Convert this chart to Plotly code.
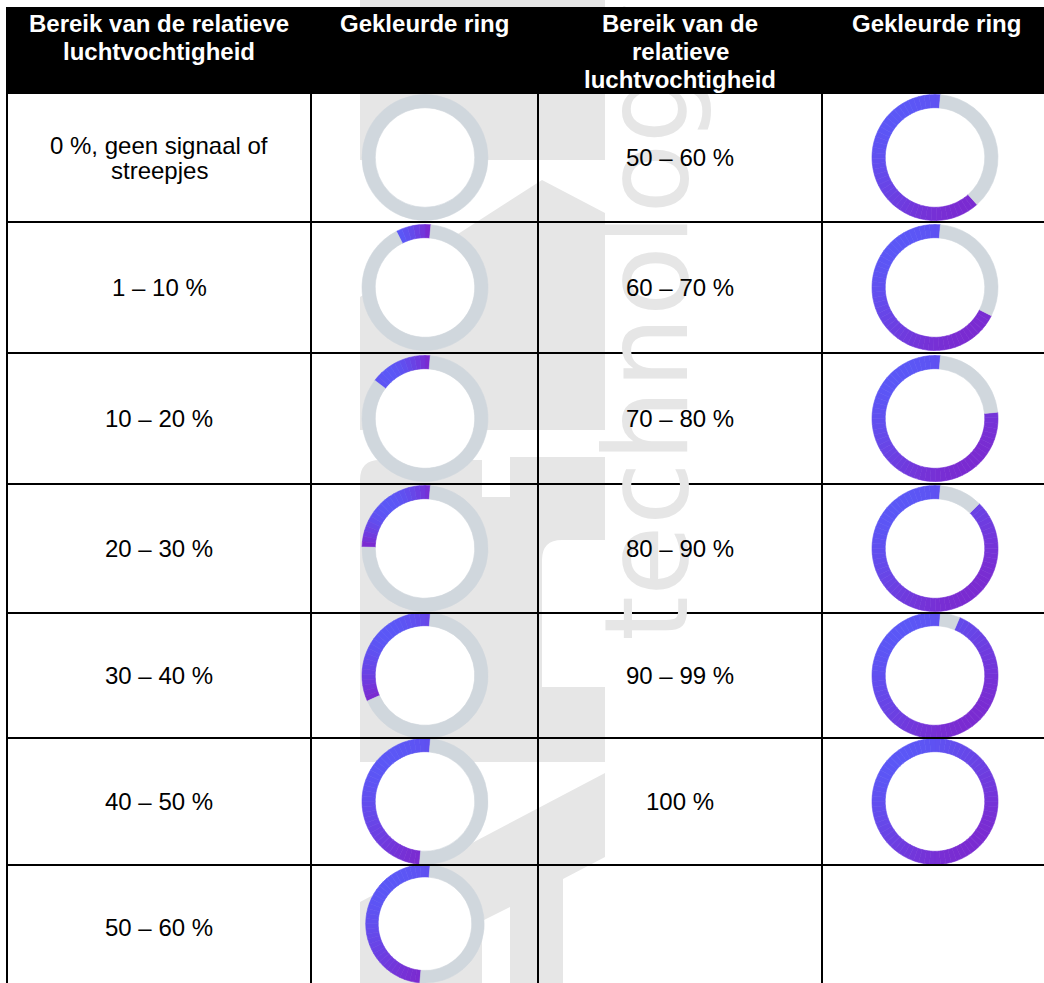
"""
Tabel: bereik van de relatieve luchtvochtigheid -> gekleurde ring (Plotly).
"""

import math

import plotly.graph_objects as go

# ---- data -----------------------------------------------------------------
HEADERS = [
    "Bereik van de relatieve<br>luchtvochtigheid",
    "Gekleurde ring",
    "Bereik van de<br>relatieve<br>luchtvochtigheid",
    "Gekleurde ring",
]

LEFT_RANGES = [
    "0 %, geen signaal of<br>streepjes",
    "1 – 10 %",
    "10 – 20 %",
    "20 – 30 %",
    "30 – 40 %",
    "40 – 50 %",
    "50 – 60 %",
]
LEFT_FILL = [0.0, 0.09, 0.16, 0.26, 0.33, 0.50, 0.50]

RIGHT_RANGES = ["50 – 60 %", "60 – 70 %", "70 – 80 %", "80 – 90 %", "90 – 99 %", "100 %"]
RIGHT_FILL = [0.63, 0.69, 0.78, 0.89, 0.95, 1.0]

# ---- layout (pixels) --------------------------------------------------------
W, H = 1044, 983
COL_X = [7, 311, 538, 822, 1050]
ROW_Y = [93, 222, 353, 484, 613, 738, 865, 990]
HEADER_TOP = 7
RING_R = 63
HOLE = 0.79

BLUE = (91, 87, 246)
PURPLE = (122, 43, 209)
TRACK = "#d0d7dd"
WATERMARK = "#e6e6e6"
FONT = "Liberation Sans, Arial, sans-serif"


def _mix(t):
    r, g, b = (round(a + (c - a) * t) for a, c in zip(BLUE, PURPLE))
    return f"rgb({r},{g},{b})"


def ring_trace(frac, cx, cy):
    """Donut: gekleurde boog (schuin verloop) + grijze rest."""
    values, colors = [], []
    if frac > 0:
        n = max(1, round(frac * 72))
        mids = [(i + 0.5) * frac / n * 2 * math.pi for i in range(n)]
        proj = [-math.sin(a) - math.cos(a) for a in mids]  # richting linksboven -> rechtsonder
        lo, hi = min(proj), max(proj)
        for p in proj:
            t = 0.5 if hi - lo < 1e-9 else (p - lo) / (hi - lo)
            values.append(frac / n)
            colors.append(_mix(t))
    if frac < 1:
        values.append(1 - frac)
        colors.append(TRACK)

    # domein in pixels, afgekapt op de figuurrand
    x0, x1 = max(0, cx - RING_R), min(W, cx + RING_R)
    y0, y1 = max(0, cy - RING_R), min(H, cy + RING_R)
    r = min(x1 - x0, y1 - y0) / 2
    geom = ((x0 + x1) / 2, (y0 + y1) / 2, r)

    trace = go.Pie(
        values=values,
        sort=False,
        direction="counterclockwise",
        rotation=0,
        hole=HOLE,
        marker=dict(colors=colors, line=dict(color=colors, width=0.6)),
        textinfo="none",
        hoverinfo="skip",
        showlegend=False,
        domain=dict(x=[x0 / W, x1 / W], y=[1 - y1 / H, 1 - y0 / H]),
    )
    return trace, geom


def text_lines(text, x, y, spacing, size, color, bold=False, top=False):
    out = []
    lines = text.split("<br>")
    for i, line in enumerate(lines):
        if top:
            ly = y + i * spacing
        else:
            ly = y + (i - (len(lines) - 1) / 2) * spacing
        out.append(dict(
            x=x, y=ly, xref="x", yref="y", text=line, showarrow=False,
            xanchor="center", yanchor="middle",
            font=dict(family=FONT, size=size, color=color, weight="bold" if bold else "normal"),
        ))
    return out


fig = go.Figure()

col_cx = [(COL_X[i] + COL_X[i + 1]) / 2 for i in range(4)]
row_cy = [(ROW_Y[i] + ROW_Y[i + 1]) / 2 for i in range(7)]

rings = []
for frac, cy in zip(LEFT_FILL, row_cy):
    rings.append(ring_trace(frac, 425, cy))
for frac, cy in zip(RIGHT_FILL, row_cy):
    rings.append(ring_trace(frac, 935, cy))

shapes = []
# watermerk (logo) op de achtergrond
logo_paths = [
    "M360,0 L605,0 L605,160 L360,160 Z",
    "M360,297 L542,180 L605,213 L605,430 L360,430 Z",
    "M360,480 Q360,460 380,460 L482,460 L482,497 L510,497 L510,457 L605,457 "
    "L605,540 L562,540 Q542,540 542,560 L542,687 L605,687 L605,762 L360,762 Z",
    "M360,902 L605,773 L605,857 L563,879 L563,983 L510,983 L510,907 L482,921 "
    "L482,983 L360,983 Z",
]
for p in logo_paths:
    shapes.append(dict(type="path", path=p, xref="x", yref="y", fillcolor=WATERMARK,
                       line=dict(width=0), layer="below"))

# witte binnenkant van de ringen
for trace, (gx, gy, gr) in rings:
    fig.add_trace(trace)
    r_in = gr * HOLE
    shapes.append(dict(type="circle", xref="x", yref="y", x0=gx - r_in, x1=gx + r_in,
                       y0=gy - r_in, y1=gy + r_in, fillcolor="white",
                       line=dict(width=0), layer="below"))

# rasterlijnen
for x in COL_X[:4]:
    shapes.append(dict(type="line", xref="x", yref="y", x0=x, x1=x, y0=ROW_Y[0], y1=H + 5,
                       line=dict(color="black", width=2), layer="above"))
for y in ROW_Y[1:7]:
    shapes.append(dict(type="line", xref="x", yref="y", x0=COL_X[0] - 1, x1=W + 5, y0=y, y1=y,
                       line=dict(color="black", width=2), layer="above"))

annotations = [
    dict(x=647, y=322, xref="x", yref="y", text="technology", showarrow=False, textangle=-90,
         xanchor="center", yanchor="middle",
         font=dict(family="DejaVu Sans, sans-serif", size=115, color=WATERMARK)),
    # zwarte kopbalk
    dict(x=(6 + W) / 2, y=(HEADER_TOP + ROW_Y[0] + 1) / 2, xref="x", yref="y", text="&nbsp;",
         showarrow=False, width=W - 6, height=ROW_Y[0] + 1 - HEADER_TOP, bgcolor="black",
         borderpad=0, borderwidth=0, xanchor="center", yanchor="middle"),
]
for head, cx in zip(HEADERS, col_cx):
    annotations += text_lines(head, cx, 23, 28, 24, "white", bold=True, top=True)
for label, cy in zip(LEFT_RANGES, row_cy):
    annotations += text_lines(label, col_cx[0], cy, 25, 24, "black")
for label, cy in zip(RIGHT_RANGES, row_cy):
    annotations += text_lines(label, col_cx[2], cy, 25, 24, "black")

fig.update_layout(
    width=W,
    height=H,
    margin=dict(l=0, r=0, t=0, b=0),
    paper_bgcolor="white",
    plot_bgcolor="white",
    xaxis=dict(range=[0, W], visible=False, fixedrange=True, domain=[0, 1]),
    yaxis=dict(range=[H, 0], visible=False, fixedrange=True, domain=[0, 1]),
    shapes=shapes,
    annotations=annotations,
)

# standaard body-marge van de browser weghalen, geen modebar
fig.write_html(
    "out.html",
    config={"displayModeBar": False},
    post_script="document.body.style.margin='0';document.body.style.overflow='hidden';",
)
